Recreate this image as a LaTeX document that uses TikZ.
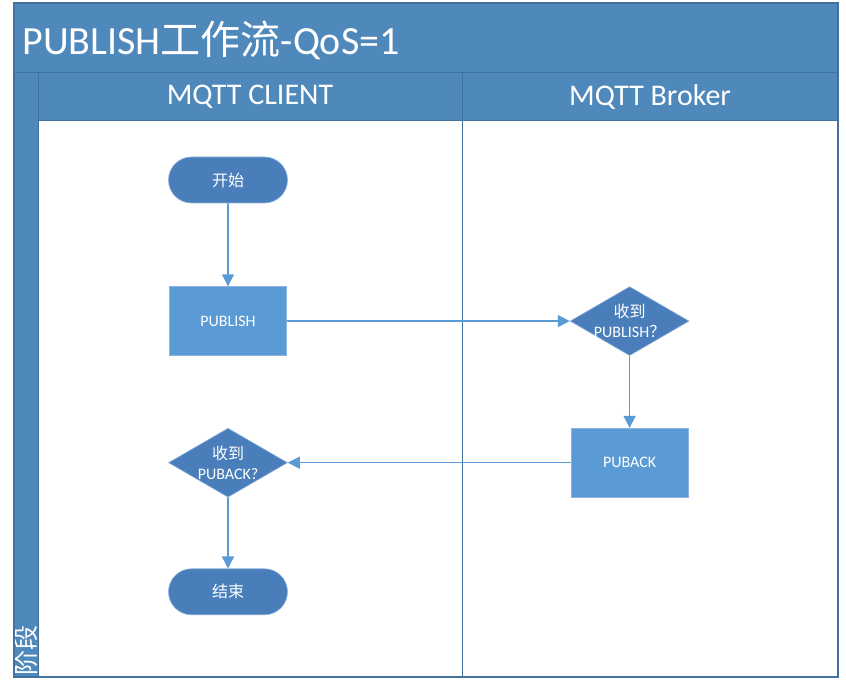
\documentclass[tikz,border=0pt]{standalone}
\usepackage{fontspec}
\setmainfont{Carlito}
\newfontfamily\cjk{Noto Sans CJK SC}
\usetikzlibrary{arrows.meta}
\usetikzlibrary{positioning}
\usetikzlibrary{shapes.geometric, shapes.misc}

\definecolor{bandblue}{HTML}{4F88BB}
\definecolor{edgeblue}{HTML}{41719C}
\definecolor{darkfill}{HTML}{4A7EBB}
\definecolor{lightfill}{HTML}{5B9BD5}
\definecolor{rimblue}{HTML}{8DB3DE}

\begin{document}
\begin{tikzpicture}[
        x=1pt, y=1pt,
        band/.style={rectangle, draw=edgeblue, fill=bandblue, line width=1pt, text=white, inner sep=0pt},
        terminal/.style={rounded rectangle, draw=rimblue, fill=darkfill, line width=0.6pt, minimum width=119pt, minimum height=46pt, inner sep=0pt, text=white, font=\cjk\fontsize{16}{19}\selectfont},
        process/.style={rectangle, draw=rimblue, fill=lightfill, line width=0.6pt, minimum width=117pt, minimum height=69pt, inner sep=0pt, text=white, font=\fontsize{16}{19}\selectfont},
        decision/.style={diamond, draw=rimblue, fill=darkfill, line width=0.6pt, minimum width=119pt, minimum height=69pt, inner sep=0pt, aspect=1.72},
        dlabel/.style={text=white, align=center, font=\fontsize{16}{20}\selectfont},
        arrow/.style={-{Triangle[width=12pt, length=12pt]}, draw=lightfill, line width=1.6pt}
        ]

        \useasboundingbox (0,0) rectangle (846,690);

        % Frame, title and lanes
        \fill[white] (14,13) rectangle (838,687);
        \node (title) [band, minimum width=824pt, minimum height=70pt] at (426,652) {};
        \node [anchor=west, text=white, font=\fontsize{40}{44}\selectfont] at (19,650) {PUBLISH{\cjk 工作流}-QoS=1};
        \node (stage) [band, minimum width=24pt, minimum height=604pt] at (26,315) {};
        \node [rotate=90, anchor=west, text=white, font=\cjk\fontsize{25}{28}\selectfont, inner sep=0pt] at (26,14) {阶段};
        \node (client) [band, minimum width=424pt, minimum height=48pt, font=\fontsize{30}{33}\selectfont] at (250,593) {MQTT CLIENT};
        \node (broker) [band, minimum width=376pt, minimum height=48pt, font=\fontsize{30}{33}\selectfont] at (650,593) {MQTT Broker};
        \draw[edgeblue, line width=1pt] (462,569) -- (462,13);
        \draw[edgeblue, line width=1.2pt] (14,13) rectangle (838,687);

        % Flow nodes
        \node (start)   [terminal] at (228,510) {开始};
        \node (publish) [process, below=83pt of start] {PUBLISH};
        \node (gotpub)  [decision, right=283pt of publish, label={[dlabel]center:{\cjk 收到}\\PUBLISH{\cjk ？}}] {};
        \node (puback)  [process, below=72pt of gotpub] {PUBACK};
        \node (gotack)  [decision, left=283pt of puback, label={[dlabel]center:{\cjk 收到}\\PUBACK?}] {};
        \node (finish)  [terminal, below=71pt of gotack] {结束};

        % Connectors
        \draw[arrow] (start)   -- (publish);
        \draw[arrow] (publish) -- (gotpub);
        \draw[arrow] (gotpub)  -- (puback);
        \draw[arrow] (puback)  -- (gotack);
        \draw[arrow] (gotack)  -- (finish);

    \end{tikzpicture}
\end{document}
